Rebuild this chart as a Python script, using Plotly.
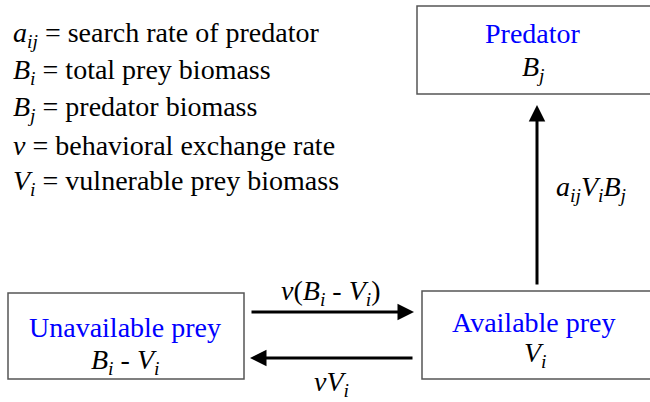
import plotly.graph_objects as go

# ---- content ----
legend_lines = [
    "<i>a<sub>ij</sub></i> = search rate of predator",
    "<i>B<sub>i</sub></i> = total prey biomass",
    "<i>B<sub>j</sub></i> = predator biomass",
    "<i>v</i> = behavioral exchange rate",
    "<i>V<sub>i</sub></i> = vulnerable prey biomass",
]
node_titles = ["Predator", "Unavailable prey", "Available prey"]
node_symbols = ["<i>B<sub>j</sub></i>", "<i>B<sub>i</sub></i> - <i>V<sub>i</sub></i>", "<i>V<sub>i</sub></i>"]
flow_labels = ["<i>a<sub>ij</sub>V<sub>i</sub>B<sub>j</sub></i>",
               "<i>v</i>(<i>B<sub>i</sub></i> - <i>V<sub>i</sub></i>)",
               "<i>vV<sub>i</sub></i>"]

# ---- layout geometry (pixel coordinates) ----
W, H = 650, 402
boxes = [(417, 6, 660, 94), (8, 293, 244, 379), (422, 291, 660, 379)]
title_pos = [(533, 33), (125, 327), (534, 322)]
symbol_pos = [(533, 68), (125, 361), (535, 354)]
arrows = [  # (head_x, head_y, tail_x, tail_y)
    (537, 105, 537, 286),
    (414, 312, 250, 312),
    (250, 358, 414, 358),
]
flow_pos = [(591, 188, "center"), (331, 292, "center"), (331, 383, "center")]
legend_x, legend_y0, legend_dy = 11, 34, 37

FONT = "Liberation Serif"
FS = 28

fig = go.Figure()

for (x0, y0, x1, y1) in boxes:
    fig.add_shape(type="rect", x0=x0, y0=y0, x1=x1, y1=y1, line=dict(color="#555555", width=1.5), fillcolor="rgba(0,0,0,0)")

for i, t in enumerate(legend_lines):
    fig.add_annotation(x=legend_x, y=legend_y0 + i * legend_dy, text=t, showarrow=False,
                       xanchor="left", yanchor="middle", font=dict(family=FONT, size=FS, color="black"))

for t, (x, y) in zip(node_titles, title_pos):
    fig.add_annotation(x=x, y=y, text=t, showarrow=False, xanchor="center", yanchor="middle",
                       font=dict(family=FONT, size=FS, color="#0000ff"))
for t, (x, y) in zip(node_symbols, symbol_pos):
    fig.add_annotation(x=x, y=y, text=t, showarrow=False, xanchor="center", yanchor="middle",
                       font=dict(family=FONT, size=FS, color="black"))

for (hx, hy, tx, ty) in arrows:
    fig.add_annotation(x=hx, y=hy, ax=tx, ay=ty, xref="x", yref="y", axref="x", ayref="y",
                       text="", showarrow=True, arrowhead=2, arrowsize=1.1, arrowwidth=3, arrowcolor="black")

for t, (x, y, anc) in zip(flow_labels, flow_pos):
    fig.add_annotation(x=x, y=y, text=t, showarrow=False, xanchor=anc, yanchor="middle",
                       font=dict(family=FONT, size=FS, color="black"))

fig.update_layout(
    width=W, height=H, margin=dict(l=0, r=0, t=0, b=0),
    paper_bgcolor="white", plot_bgcolor="white",
    xaxis=dict(range=[0, W], visible=False, fixedrange=True),
    yaxis=dict(range=[H, 0], visible=False, fixedrange=True),
    showlegend=False,
)
fig.write_html("out.html", config={"displayModeBar": False},
               post_script="document.body.style.margin='0';document.body.style.padding='0';")
